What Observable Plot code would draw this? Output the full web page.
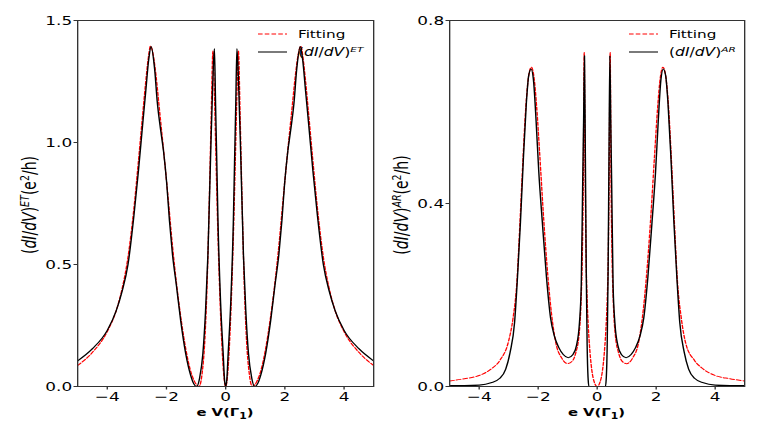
<!DOCTYPE html>
<html><head><meta charset="utf-8">
<script src="https://cdn.jsdelivr.net/npm/d3@7"></script>
<script src="https://cdn.jsdelivr.net/npm/@observablehq/plot@0.6"></script>
<style>
body{margin:0;background:#fff;}
#wrap{position:relative;width:763px;height:436px;overflow:hidden;background:#fff;}
#wrap svg{position:absolute;top:0;}
</style></head><body><div id="wrap"></div>
<script>
// tick values
const xTicks = [-4, -2, 0, 2, 4];
const etTicks = [0, 0.5, 1.0, 1.5];
const arTicks = [0, 0.4, 0.8];

// (dI/dV)^ET  — black solid
const etX = [-5,-4.5,-4,-3.7,-3.5,-3.3,-3.1,-2.95,-2.8,-2.7,-2.6,-2.52,-2.4,-2.31,-2.19,-2.1,-1.99,-1.9,-1.8,-1.66,-1.52,-1.35,-1.18,-1.08,-0.98,-0.88,-0.77,-0.68,-0.6,-0.51,-0.44,-0.38,-0.34,-0.3,-0.26,-0.17,-0.08,-0.04,0,
  0.04,0.08,0.17,0.26,0.3,0.34,0.38,0.44,0.51,0.6,0.68,0.77,0.88,0.98,1.08,1.18,1.35,1.52,1.66,1.8,1.9,1.99,2.1,2.19,2.31,2.4,2.52,2.6,2.7,2.8,2.95,3.1,3.3,3.5,3.7,4,4.5,5];
const etY = [0.105,0.155,0.23,0.31,0.39,0.50,0.70,0.88,1.08,1.21,1.34,1.393,1.30,1.165,1.045,0.965,0.83,0.68,0.545,0.41,0.27,0.135,0.045,0.012,0.0,0.035,0.135,0.31,0.54,0.94,1.23,1.385,1.15,0.92,0.68,0.34,0.125,0.03,0.0,
  0.03,0.125,0.34,0.68,0.92,1.15,1.385,1.23,0.94,0.54,0.31,0.135,0.035,0.0,0.012,0.045,0.135,0.27,0.41,0.545,0.68,0.83,0.965,1.045,1.165,1.30,1.393,1.34,1.21,1.08,0.88,0.70,0.50,0.39,0.31,0.23,0.155,0.105];

// Fitting (ET) — red dashed
const etFitX = [-5,-4.5,-4,-3.7,-3.5,-3.3,-3.1,-2.95,-2.8,-2.7,-2.62,-2.54,-2.45,-2.35,-2.25,-2.1,-1.95,-1.8,-1.65,-1.5,-1.35,-1.2,-1.05,-0.9,-0.8,-0.7,-0.62,-0.55,-0.49,-0.43,-0.38,-0.33,-0.27,-0.18,-0.09,-0.04,0,
  0.04,0.09,0.18,0.27,0.33,0.38,0.43,0.49,0.55,0.62,0.7,0.8,0.9,1.05,1.2,1.35,1.5,1.65,1.8,1.95,2.1,2.25,2.35,2.45,2.54,2.62,2.7,2.8,2.95,3.1,3.3,3.5,3.7,4,4.5,5];
const etFitY = [0.086,0.14,0.225,0.31,0.40,0.53,0.73,0.92,1.12,1.25,1.34,1.395,1.36,1.27,1.15,0.97,0.78,0.58,0.41,0.27,0.155,0.07,0.02,0.0,0.05,0.2,0.45,0.78,1.1,1.375,1.2,0.95,0.66,0.32,0.09,0.02,0.0,
  0.02,0.09,0.32,0.66,0.95,1.2,1.375,1.1,0.78,0.45,0.2,0.05,0.0,0.02,0.07,0.155,0.27,0.41,0.58,0.78,0.97,1.15,1.27,1.36,1.395,1.34,1.25,1.12,0.92,0.73,0.53,0.40,0.31,0.225,0.14,0.086];

// (dI/dV)^AR — black solid
const arX = [-5,-4.5,-4,-3.6,-3.3,-3.1,-2.95,-2.8,-2.7,-2.6,-2.5,-2.4,-2.32,-2.24,-2.16,-2.07,-1.98,-1.86,-1.72,-1.58,-1.45,-1.3,-1.15,-0.98,-0.82,-0.7,-0.6,-0.54,-0.49,-0.46,-0.43,-0.4,-0.37,-0.34,-0.31,-0.28,0,
  0.28,0.31,0.34,0.37,0.4,0.43,0.46,0.49,0.54,0.6,0.7,0.82,0.98,1.15,1.3,1.45,1.58,1.72,1.86,1.98,2.07,2.16,2.24,2.32,2.4,2.5,2.6,2.7,2.8,2.95,3.1,3.3,3.6,4,4.5,5];
const arY = [0.002,0.002,0.003,0.008,0.018,0.038,0.075,0.14,0.24,0.36,0.50,0.62,0.68,0.694,0.67,0.58,0.47,0.36,0.24,0.15,0.11,0.085,0.07,0.063,0.07,0.09,0.14,0.22,0.45,0.58,0.723,0.50,0.25,0.09,0.02,0.0,0.0,
  0.0,0.02,0.09,0.25,0.50,0.723,0.58,0.45,0.22,0.14,0.09,0.07,0.063,0.07,0.085,0.11,0.15,0.24,0.36,0.47,0.58,0.67,0.694,0.68,0.62,0.50,0.36,0.24,0.14,0.075,0.038,0.018,0.008,0.003,0.002,0.002];

// Fitting (AR) — red dashed
const arFitX = [-5,-4.5,-4,-3.6,-3.3,-3.0,-2.85,-2.72,-2.62,-2.52,-2.42,-2.32,-2.23,-2.14,-2.05,-1.95,-1.81,-1.67,-1.55,-1.4,-1.2,-1.0,-0.85,-0.72,-0.62,-0.55,-0.5,-0.47,-0.44,-0.41,-0.38,-0.34,-0.3,-0.25,-0.18,-0.1,0,
  0.1,0.18,0.25,0.3,0.34,0.38,0.41,0.44,0.47,0.5,0.55,0.62,0.72,0.85,1.0,1.2,1.4,1.55,1.67,1.81,1.95,2.05,2.14,2.23,2.32,2.42,2.52,2.62,2.72,2.85,3.0,3.3,3.6,4,4.5,5];
const arFitY = [0.012,0.017,0.024,0.038,0.057,0.1,0.15,0.23,0.355,0.49,0.61,0.68,0.698,0.675,0.61,0.51,0.363,0.24,0.16,0.095,0.062,0.05,0.055,0.075,0.11,0.18,0.3,0.45,0.73,0.5,0.3,0.19,0.13,0.08,0.035,0.01,0.0,
  0.01,0.035,0.08,0.13,0.19,0.3,0.5,0.73,0.45,0.3,0.18,0.11,0.075,0.055,0.05,0.062,0.095,0.16,0.24,0.363,0.51,0.61,0.675,0.698,0.68,0.61,0.49,0.355,0.23,0.15,0.095,0.057,0.038,0.024,0.017,0.012];

const rows = (xs, ys) => xs.map((x, i) => ({x, y: ys[i]}));

const S = 1.35;            // the original figure is stretched horizontally
const H = 436, MT = 20, MB = 50;
const FONT = "DejaVu Sans";
const fmtX = d => d < 0 ? "\u2212" + Math.abs(d) : String(d);
const fmtY = d3.format(".1f");

function addText(g, parts, attrs) {
  const t = g.append("text").attr("font-family", FONT).attr("text-anchor", "start");
  for (const [k, v] of Object.entries(attrs)) t.attr(k, v);
  for (const p of parts) {
    const s = t.append("tspan").text(p.t);
    if (p.i) s.attr("font-style", "italic");
    if (p.size) s.attr("font-size", p.size);
    if (p.dy) s.attr("dy", p.dy);
  }
  return t;
}

function panel(cfg) {
  const w = cfg.totalW / S;
  const mL = cfg.mL / S, mR = cfg.mR / S;
  const chart = Plot.plot({
    width: w, height: H,
    marginLeft: mL, marginRight: mR, marginTop: MT, marginBottom: MB,
    x: {domain: [-5, 5]},
    y: {domain: cfg.yDomain},
    style: {fontFamily: FONT, fontSize: "12.5px", color: "#000", background: "#fff", overflow: "visible"},
    marks: [
      Plot.line(cfg.fit, {x: "x", y: "y", stroke: "#ff0000", strokeWidth: 1, strokeDasharray: "3.4,1.6", curve: "monotone-x", clip: true}),
      Plot.line(cfg.data, {x: "x", y: "y", stroke: "#000", strokeWidth: 1.05, curve: "monotone-x", clip: true}),
      Plot.axisX({ticks: xTicks, tickFormat: fmtX, tickSize: 3.5, tickPadding: 2.2, label: null, stroke: "#333"}),
      Plot.axisY({ticks: cfg.yTicks, tickFormat: fmtY, tickSize: 3.5 / S, tickPadding: 2 / S, label: null, stroke: "#333"}),
      Plot.frame({stroke: "#333", strokeWidth: 1})
    ]
  });
  chart.setAttribute("width", cfg.totalW);
  chart.setAttribute("preserveAspectRatio", "none");
  chart.style.width = cfg.totalW + "px";
  chart.style.height = H + "px";
  chart.style.maxWidth = "none";
  chart.style.left = cfg.left + "px";

  const g = d3.select(chart).append("g");
  const frameL = mL, frameR = w - mR;
  const cx = (frameL + frameR) / 2;

  // y label
  addText(g, [
    {t: "("}, {t: "dI", i: true}, {t: "/"}, {t: "dV", i: true}, {t: ")"},
    {t: cfg.sup, i: true, size: "9.5px", dy: "-5.5"},
    {t: "(e", dy: "5.5", size: "14px"}, {t: "2", size: "9.5px", dy: "-5.5"},
    {t: "/h)", dy: "5.5", size: "14px"}
  ], {"font-size": "14px", "text-anchor": "middle", fill: "#000",
      transform: `translate(${cfg.yLabX / S},205) rotate(-90)`});

  // x label
  addText(g, [
    {t: "e V(\u0393"}, {t: "1", size: "8px", dy: "3"}, {t: ")", dy: "-3", size: "11px"}
  ], {"font-size": "11px", "font-weight": "bold", "text-anchor": "middle", fill: "#000",
      x: cx, y: 416});

  // legend
  const fr = frameR * S; // final-pixel frame right edge within this svg
  const lx1 = (fr - 115) / S, lx2 = (fr - 86) / S, tx = (fr - 75) / S;
  g.append("line").attr("x1", lx1).attr("x2", lx2).attr("y1", 34).attr("y2", 34)
    .attr("stroke", "#ff0000").attr("stroke-width", 1).attr("stroke-dasharray", "3.4,1.6");
  g.append("line").attr("x1", lx1).attr("x2", lx2).attr("y1", 52).attr("y2", 52)
    .attr("stroke", "#000").attr("stroke-width", 1.05);
  addText(g, [{t: "Fitting"}], {"font-size": "11.3px", fill: "#000", x: tx, y: 38.5});
  addText(g, [
    {t: "("}, {t: "dI", i: true}, {t: "/"}, {t: "dV", i: true}, {t: ")"},
    {t: cfg.sup, i: true, size: "7.8px", dy: "-4.5"}
  ], {"font-size": "11.5px", fill: "#000", x: tx, y: 56.5});

  document.getElementById("wrap").appendChild(chart);
}

panel({left: 0, totalW: 380, mL: 77, mR: 7, yDomain: [0, 1.5], yTicks: etTicks,
       data: rows(etX, etY), fit: rows(etFitX, etFitY), sup: "ET", yLabX: 36});
panel({left: 380, totalW: 383, mL: 69, mR: 19, yDomain: [0, 0.8], yTicks: arTicks,
       data: rows(arX, arY), fit: rows(arFitX, arFitY), sup: "AR", yLabX: 28});
</script></body></html>
